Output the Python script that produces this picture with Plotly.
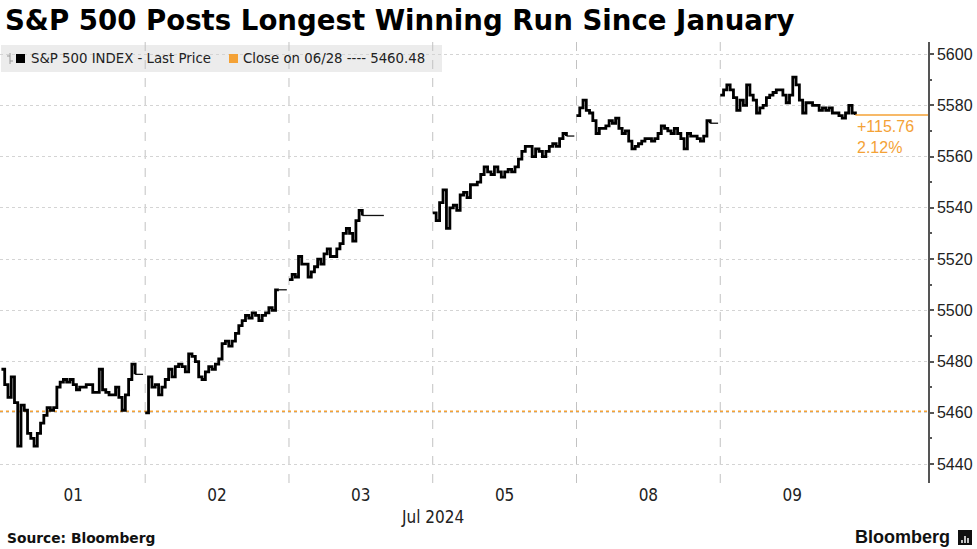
import plotly.graph_objects as go

# ---------------- data ----------------
day_labels = ["01", "02", "03", "05", "08", "09"]
month_label = "Jul 2024"
prev_close = 5460.48
prev_close_date = "06/28"
series_name = "S&P 500 INDEX - Last Price"

jul01 = [5477, 5471, 5466, 5474, 5464, 5447, 5463, 5461, 5452, 5450, 5447, 5452, 5456, 5459,
         5462, 5461, 5462, 5470, 5472, 5473, 5472, 5473, 5471, 5469, 5470, 5470, 5471, 5471,
         5468, 5468, 5477, 5469, 5468, 5467, 5467, 5470, 5466, 5461, 5467, 5473, 5479, 5475]
jul02 = [5460, 5474, 5470, 5471, 5467, 5470, 5473, 5477, 5474, 5478, 5479, 5478, 5476, 5483,
         5482, 5480, 5474, 5473, 5476, 5478, 5477, 5479, 5481, 5487, 5488, 5486, 5488, 5491,
         5494, 5496, 5498, 5497, 5499, 5498, 5496, 5498, 5499, 5501, 5500, 5508, 5508]
jul03 = [5512, 5514, 5513, 5521, 5518, 5518, 5513, 5515, 5517, 5520, 5518, 5522, 5524, 5521,
         5521, 5524, 5526, 5530, 5532, 5530, 5527, 5535, 5539, 5537]
jul05 = [5538, 5535, 5542, 5547, 5532, 5540, 5541, 5539, 5545, 5546, 5544, 5549, 5549, 5550,
         5553, 5556, 5554, 5553, 5556, 5554, 5552, 5554, 5555, 5554, 5556, 5559, 5562, 5564,
         5564, 5560, 5563, 5562, 5560, 5562, 5564, 5565, 5564, 5567, 5569, 5568]
jul08 = [5576, 5579, 5582, 5578, 5577, 5574, 5569, 5571, 5571, 5572, 5574, 5573, 5575, 5571,
         5569, 5570, 5566, 5563, 5564, 5565, 5566, 5567, 5567, 5566, 5567, 5569, 5572, 5571,
         5570, 5569, 5571, 5569, 5567, 5563, 5569, 5568, 5568, 5567, 5566, 5568, 5574, 5573]
jul09 = [5584, 5586, 5588, 5586, 5583, 5578, 5582, 5580, 5588, 5584, 5582, 5577, 5579, 5580,
         5583, 5584, 5585, 5586, 5586, 5584, 5581, 5584, 5591, 5588, 5582, 5577, 5581, 5581,
         5580, 5580, 5578, 5579, 5578, 5579, 5577, 5577, 5576, 5575, 5577, 5580, 5577, 5576.24]

sessions = [jul01, jul02, jul03, jul05, jul08, jul09]
y_ticks = [5440, 5460, 5480, 5500, 5520, 5540, 5560, 5580, 5600]

# ---------------- layout helpers ----------------
session_span = [0.93, 0.93, 0.51, 0.93, 0.93, 0.94]   # fraction of day slot with trading
hold_end = [0.985, 0.985, 0.66, 0.985, 0.985, None]   # last price held until
X_MAX = 6.445
ORANGE = "#F4A236"
PLOT_W, PLOT_TOP, PLOT_BOT = 928, 42, 483


def px(xp):
    return xp / PLOT_W


def py(yp):
    return (PLOT_BOT - yp) / (PLOT_BOT - PLOT_TOP)


xs, ys, hx, hy = [], [], [], []
for d, vals in enumerate(sessions):
    n = len(vals)
    for k, v in enumerate(vals):
        xs.append(d + session_span[d] * k / (n - 1))
        ys.append(v)
    xs.append(None)
    ys.append(None)
    if hold_end[d] is not None:
        hx += [d + session_span[d], d + hold_end[d], None]
        hy += [vals[-1], vals[-1], None]

last_x = len(sessions) - 1 + session_span[-1]
last_price = jul09[-1]
change = last_price - prev_close
pct = change / prev_close * 100

fig = go.Figure()
fig.add_trace(go.Scatter(x=hx, y=hy, mode="lines", line=dict(color="#111111", width=1.3),
                         hoverinfo="skip", showlegend=False))
fig.add_trace(go.Scatter(x=xs, y=ys, mode="lines", line=dict(color="#000000", width=2.8, shape="hv"),
                         connectgaps=False, showlegend=False))
fig.add_trace(go.Scatter(x=[last_x, X_MAX], y=[last_price, last_price], mode="lines",
                         line=dict(color=ORANGE, width=1.5), showlegend=False))

shapes = []
# legend box
shapes.append(dict(type="rect", xref="paper", yref="paper", x0=px(1), x1=px(442), y0=py(72), y1=py(45),
                   fillcolor="#ececec", line=dict(width=0), layer="between"))
# day separators
for d in range(1, len(sessions)):
    shapes.append(dict(type="line", xref="x", yref="paper", x0=d, x1=d, y0=0, y1=1,
                       line=dict(color="#c2c2c2", width=1, dash="dash"), layer="between"))
# previous close line
shapes.append(dict(type="line", xref="paper", yref="y", x0=0, x1=1, y0=prev_close, y1=prev_close,
                   line=dict(color=ORANGE, width=2, dash="dot"), layer="between"))
# legend icons
shapes.append(dict(type="line", xref="paper", yref="paper", x0=px(10), x1=px(10), y0=py(64), y1=py(53),
                   line=dict(color="#9a9a9a", width=1)))
shapes.append(dict(type="line", xref="paper", yref="paper", x0=px(7), x1=px(10), y0=py(56), y1=py(56),
                   line=dict(color="#9a9a9a", width=1)))
shapes.append(dict(type="line", xref="paper", yref="paper", x0=px(10), x1=px(13), y0=py(61), y1=py(61),
                   line=dict(color="#9a9a9a", width=1)))
shapes.append(dict(type="rect", xref="paper", yref="paper", x0=px(16), x1=px(25), y0=py(63), y1=py(54),
                   fillcolor="#000000", line=dict(width=0)))
shapes.append(dict(type="rect", xref="paper", yref="paper", x0=px(229), x1=px(238), y0=py(63), y1=py(54),
                   fillcolor=ORANGE, line=dict(width=0)))
# Bloomberg logo mark
shapes.append(dict(type="rect", xref="paper", yref="paper", x0=px(958), x1=px(972), y0=py(545), y1=py(530),
                   fillcolor="#111111", line=dict(width=0)))
for bx, top in [(962, 540), (965, 536), (968, 538)]:
    shapes.append(dict(type="line", xref="paper", yref="paper", x0=px(bx), x1=px(bx), y0=py(543), y1=py(top),
                       line=dict(color="#ffffff", width=1.5)))

legend_font = dict(family="DejaVu Sans, Verdana, sans-serif", size=13.3, color="#222222")
annotations = [
    dict(xref="paper", yref="paper", x=px(29), y=py(58.5), xanchor="left", yanchor="middle",
         text=series_name, showarrow=False, font=legend_font),
    dict(xref="paper", yref="paper", x=px(241), y=py(58.5), xanchor="left", yanchor="middle",
         text=f"Close on {prev_close_date} ---- {prev_close:.2f}", showarrow=False, font=legend_font),
    dict(xref="x", yref="y", x=last_x, y=last_price, xanchor="left", yanchor="top", yshift=-1,
         text=f"+{change:.2f}<br>{pct:.2f}%", showarrow=False, align="left",
         font=dict(family="Liberation Sans, Arial, sans-serif", size=16, color=ORANGE)),
    dict(xref="x", yref="paper", x=3, y=py(517), xanchor="center", yanchor="middle",
         text=month_label, showarrow=False,
         font=dict(family="Liberation Sans Narrow, DejaVu Sans Condensed, Liberation Sans", size=17, color="#222222")),
    dict(xref="paper", yref="paper", x=px(5), y=py(538), xanchor="left", yanchor="middle",
         text="<b>Source: Bloomberg</b>", showarrow=False,
         font=dict(family="DejaVu Sans, Verdana, sans-serif", size=13.8, color="#111111")),
    dict(xref="paper", yref="paper", x=px(952), y=py(537), xanchor="right", yanchor="middle",
         text="<b>Bloomberg</b>", showarrow=False,
         font=dict(family="Liberation Sans, Arial, sans-serif", size=18, color="#111111")),
]

fig.update_layout(
    width=977, height=549,
    margin=dict(l=0, r=977 - PLOT_W, t=PLOT_TOP, b=549 - PLOT_BOT),
    paper_bgcolor="#ffffff", plot_bgcolor="#ffffff",
    title=dict(text="<b>S&P 500 Posts Longest Winning Run Since January</b>",
               xref="container", yref="container", x=5 / 977, y=1 - 20 / 549,
               xanchor="left", yanchor="middle",
               font=dict(family="DejaVu Sans, Verdana, sans-serif", size=27.6, color="#000000")),
    xaxis=dict(range=[-0.01, X_MAX], tickvals=[d + 0.5 for d in range(len(day_labels))],
               ticktext=day_labels, showgrid=False, zeroline=False, showline=False, ticks="",
               tickfont=dict(family="Liberation Sans Narrow, DejaVu Sans Condensed, Liberation Sans",
                             size=17, color="#222222")),
    yaxis=dict(range=[5432.6, 5604.7], side="right", tickvals=y_ticks, showgrid=True,
               gridcolor="#d4d4d4", griddash="dot", gridwidth=1, zeroline=False,
               showline=True, linecolor="#555555", linewidth=1.5, ticks="outside", ticklen=4,
               tickcolor="#555555", tickwidth=1.5,
               minor=dict(dtick=10, tick0=5440, ticks="outside", ticklen=2, tickcolor="#555555", showgrid=False),
               tickfont=dict(family="Liberation Sans, Arial, sans-serif", size=16, color="#222222")),
    shapes=shapes,
    annotations=annotations,
    showlegend=False,
)

fig.write_html("out.html", config={"displayModeBar": False},
               post_script="document.body.style.margin='0';document.body.style.overflow='hidden';")
